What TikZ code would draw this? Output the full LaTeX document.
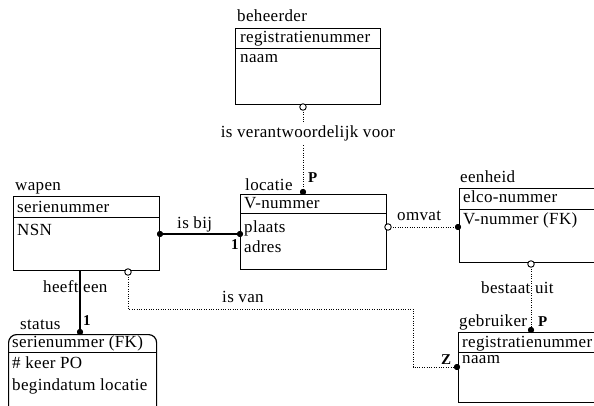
\documentclass[tikz,border=0pt]{standalone}
\usepackage{fontspec}
\setmainfont{Liberation Serif}[LetterSpace=2]
\begin{document}
\begin{tikzpicture}[x=1pt,y=-1pt,
  font=\fontsize{17}{20}\selectfont,
  entity/.style={draw, line width=1.2pt, rectangle, anchor=north west, inner sep=0pt},
  headline/.style={line width=0.8pt},
  txt/.style={anchor=base west, inner sep=0pt},
  card/.style={anchor=base west, inner sep=0pt, font=\fontsize{15}{18}\selectfont\bfseries},
  fdot/.style={circle, fill, inner sep=0pt, minimum size=6pt},
  odot/.style={circle, draw, fill=white, line width=0.9pt, inner sep=0pt, minimum size=6.5pt},
  solidlink/.style={line width=1.3pt},
  dotlink/.style={line width=0.9pt, dash pattern=on 0.9pt off 1.5pt}]
\clip (0,0) rectangle (594,406);
\fill[white] (0,0) rectangle (594,406);

% entity boxes
\node[entity, minimum width=145pt, minimum height=76pt] (beh) at (235,28) {};
\node[entity, minimum width=146pt, minimum height=75pt] (loc) at (240,194) {};
\node[entity, minimum width=146pt, minimum height=74pt] (wap) at (13,196) {};
\node[entity, minimum width=200pt, minimum height=74pt] (een) at (459,188) {};
\node[entity, minimum width=200pt, minimum height=70pt] (geb) at (458,332) {};
\node[entity, rounded corners=8pt, minimum width=148pt, minimum height=100pt] (sta) at (8,334) {};

% key / attribute separators
\draw[headline] ([yshift=-20pt]beh.north west) -- ([yshift=-20pt]beh.north east);
\draw[headline] ([yshift=-19pt]loc.north west) -- ([yshift=-19pt]loc.north east);
\draw[headline] ([yshift=-21pt]wap.north west) -- ([yshift=-21pt]wap.north east);
\draw[headline] ([yshift=-21pt]een.north west) -- ([yshift=-21pt]een.north east);
\draw[headline] ([yshift=-20pt]geb.north west) -- ([yshift=-20pt]geb.north east);
\draw[headline] ([yshift=-18pt]sta.north west) -- ([yshift=-18pt]sta.north east);

% entity names
\node[txt] (nbeh) at (237,22) {beheerder};
\node[txt] (nloc) at (245,190) {locatie};
\node[txt] (nwap) at (15,191) {wapen};
\node[txt] (neen) at (460,183) {eenheid};
\node[txt] (ngeb) at (459,326) {gebruiker};
\node[txt] (nsta) at (20,329) {status};

% attributes
\node[txt] (a1) at (240,43) {registratienummer};
\node[txt] (a2) at (240,63) {naam};
\node[txt] (a3) at (244,208) {V-nummer};
\node[txt] (a4) at (244,232) {plaats};
\node[txt] (a5) at (244,252) {adres};
\node[txt] (a6) at (17,212) {serienummer};
\node[txt] (a7) at (17,235) {NSN};
\node[txt] (a8) at (463,203) {elco-nummer};
\node[txt] (a9) at (463,224) {V-nummer (FK)};
\node[txt] (a10) at (462,347) {registratienummer};
\node[txt] (a11) at (462,363) {naam};
\node[txt] (a12) at (12,347) {serienummer (FK)};
\node[txt] (a13) at (12,368) {\# keer PO};
\node[txt] (a14) at (12,390) {begindatum locatie};

% relationship end markers
\node[fdot] (d1) at (303,192) {};
\node[fdot] (d2) at (160,234) {};
\node[fdot] (d3) at (240,234) {};
\node[fdot] (d4) at (458,227) {};
\node[fdot] (d5) at (531,330) {};
\node[fdot] (d6) at (457,367) {};
\node[fdot] (d7) at (80,332) {};
\coordinate (wb) at (80,270);
\coordinate (v1) at (128,309);
\coordinate (v2) at (413,309);
\coordinate (v3) at (413,367);

% relationships
\draw[dotlink] (303,107) coordinate (o1) -- (d1);
\draw[solidlink] (d2) -- (d3);
\draw[dotlink] (388,227) coordinate (o2) -- (d4);
\draw[dotlink] (531,264) coordinate (o3) -- (d5);
\draw[dotlink] (128,272) coordinate (o4) -- (v1) -- (v2) -- (v3) -- (d6);
\draw[solidlink] (wb) -- (d7);

\node[odot] (c1) at (o1) {};
\node[odot] (c2) at (o2) {};
\node[odot] (c3) at (o3) {};
\node[odot] (c4) at (o4) {};
\node[fdot] at (d1) {};
\node[fdot] at (d2) {};
\node[fdot] at (d3) {};
\node[fdot] at (d4) {};
\node[fdot] at (d5) {};
\node[fdot] at (d6) {};
\node[fdot] at (d7) {};

% relationship names and cardinalities
\node[anchor=base, fill=white, inner sep=2pt] (r1) at (308,138) {is verantwoordelijk voor};
\node[txt] (r2) at (177,228) {is bij};
\node[txt] (r3) at (397,220) {omvat};
\node[txt] (r4) at (481,293) {bestaat uit};
\node[txt] (r5) at (222,302) {is van};
\node[txt] (r6) at (43,292) {heeft een};
\node[card] (k1) at (308,183) {P};
\node[card] (k2) at (231,249) {1};
\node[card] (k3) at (538,326) {P};
\node[card] (k4) at (441,364) {Z};
\node[card] (k5) at (83,325) {1};
\end{tikzpicture}
\end{document}
